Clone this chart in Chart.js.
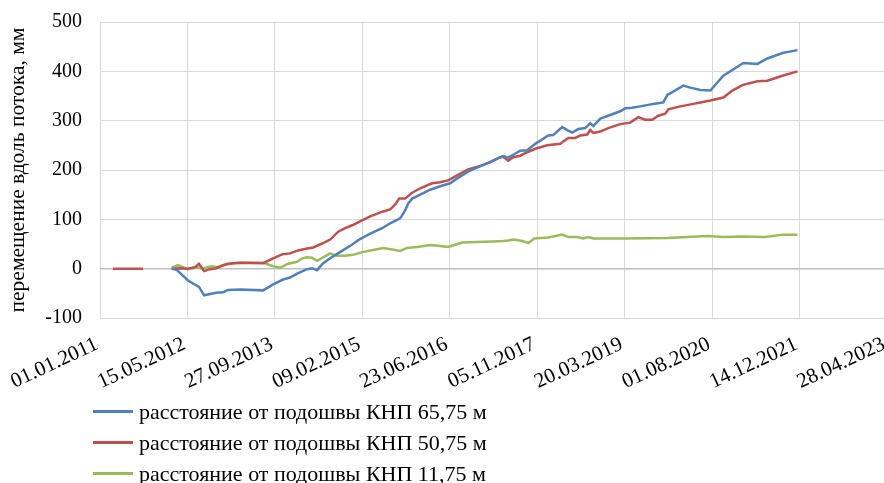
<!DOCTYPE html>
<html lang="ru">
<head>
<meta charset="utf-8">
<title>Перемещение вдоль потока</title>
<script src="https://cdn.jsdelivr.net/npm/chart.js@4.4.1/dist/chart.umd.min.js"></script>
<style>
    html, body { margin: 0; padding: 0; background: #fff; overflow: hidden; }
    #wrap { position: relative; width: 890px; height: 483px; }
    #legend { position: absolute; left: 93px; top: 396px; font-family: "Liberation Serif", "Times New Roman", serif; font-size: 22px; color: #000; }
    .leg-item { display: flex; align-items: center; height: 31px; }
    .leg-line { width: 40px; height: 3px; margin-right: 6px; }
</style>
</head>
<body>
<div id="wrap">
    <canvas id="grafico" width="890" height="483"></canvas>
    <div id="legend"></div>
</div>
<script>
// --- dados ---
const nomesSeries = [
    'расстояние от подошвы КНП 65,75 м',
    'расстояние от подошвы КНП 50,75 м',
    'расстояние от подошвы КНП 11,75 м'
];
const coresSeries = ['#4F81BD', '#C0504D', '#9BBB59'];

const datas65 = ['15.02.2012', '16.03.2012', '18.05.2012', '20.07.2012', '18.08.2012', '26.10.2012', '05.12.2012', '02.01.2013',
    '12.03.2013', '22.07.2013', '17.09.2013', '13.11.2013', '23.12.2013', '01.02.2014', '30.03.2014', '28.04.2014', '26.05.2014',
    '30.06.2014', '09.08.2014', '18.09.2014', '03.11.2014', '13.12.2014', '27.01.2015', '26.03.2015', '02.06.2015', '18.07.2015',
    '13.09.2015', '12.10.2015', '29.10.2015', '21.11.2015', '06.01.2016', '03.03.2016', '29.04.2016', '25.06.2016', '04.08.2016',
    '18.10.2016', '14.12.2016', '09.02.2017', '27.03.2017', '25.04.2017', '23.05.2017', '21.06.2017', '31.07.2017', '09.09.2017',
    '25.10.2017', '04.12.2017', '07.01.2018', '05.02.2018', '28.03.2018', '26.04.2018', '24.05.2018', '28.06.2018', '07.08.2018',
    '04.09.2018', '22.09.2018', '01.11.2018', '16.12.2018', '23.02.2019', '23.03.2019', '02.05.2019', '17.06.2019', '31.08.2019',
    '27.10.2019', '19.11.2019', '23.12.2019', '18.02.2020', '29.03.2020', '26.05.2020', '22.07.2020', '04.10.2020', '27.01.2021',
    '17.04.2021', '13.06.2021', '07.09.2021', '02.12.2021'];
const valores65 = [0, -3, -24, -37, -54, -49, -48, -43,
    -42, -44, -32, -22, -18, -10, -1, 1, -3,
    11, 21, 30, 40, 49, 60, 71, 82, 92,
    102, 118, 132, 142, 150, 160, 167, 173, 183,
    199, 208, 216, 224, 228, 225, 231, 239, 240,
    253, 262, 270, 271, 287, 281, 276, 283, 285,
    295, 289, 304, 310, 319, 325, 326, 329, 334,
    337, 352, 359, 371, 367, 362, 361, 391, 417,
    415, 426, 437, 443];

// null = перерыв в измерениях
const datas50 = ['16.03.2011', '10.06.2011', '04.09.2011', '01.12.2011', '15.02.2012', '03.04.2012', '18.05.2012', '27.06.2012', '20.07.2012',
    '18.08.2012', '21.09.2012', '26.10.2012', '05.12.2012', '02.01.2013', '12.03.2013', '22.07.2013', '17.09.2013', '07.11.2013',
    '23.12.2013', '07.02.2014', '30.03.2014', '04.05.2014', '24.06.2014', '09.08.2014', '24.09.2014', '03.11.2014', '13.12.2014',
    '27.01.2015', '26.03.2015', '08.06.2015', '18.07.2015', '16.08.2015', '08.09.2015', '12.10.2015', '21.11.2015', '06.01.2016',
    '14.03.2016', '29.04.2016', '14.06.2016', '04.08.2016', '06.10.2016', '14.12.2016', '09.02.2017', '27.03.2017', '25.04.2017',
    '23.05.2017', '21.06.2017', '31.07.2017', '09.09.2017', '25.10.2017', '01.01.2018', '17.03.2018', '03.04.2018', '02.05.2018',
    '11.06.2018', '09.07.2018', '18.08.2018', '04.09.2018', '22.09.2018', '01.11.2018', '16.12.2018', '23.02.2019', '21.04.2019',
    '06.06.2019', '16.07.2019', '25.08.2019', '28.09.2019', '07.11.2019', '25.11.2019', '01.02.2020', '16.04.2020', '26.05.2020',
    '22.07.2020', '04.10.2020', '25.11.2020', '21.01.2021', '17.04.2021', '13.06.2021', '07.09.2021', '02.12.2021'];
const valores50 = [0, 0, 0, null, 0, 1, 0, 3, 10,
    -5, -1, 1, 7, 10, 12, 11, 21, 29,
    31, 37, 41, 43, 51, 59, 75, 82, 88,
    96, 106, 116, 120, 130, 142, 142, 154, 163,
    173, 175, 179, 189, 201, 208, 216, 224, 227,
    219, 226, 229, 236, 243, 250, 253, 258, 265,
    265, 270, 272, 281, 275, 278, 285, 293, 296,
    307, 302, 302, 310, 314, 323, 329, 334, 337,
    341, 347, 361, 372, 380, 381, 391, 400];

const datas11 = ['15.02.2012', '22.03.2012', '20.04.2012', '18.05.2012', '03.07.2012', '12.08.2012', '01.10.2012', '06.11.2012',
    '16.12.2012', '31.01.2013', '12.03.2013', '22.07.2013', '17.09.2013', '27.10.2013', '12.12.2013', '01.02.2014', '02.03.2014',
    '30.03.2014', '28.04.2014', '26.05.2014', '30.06.2014', '09.08.2014', '18.09.2014', '03.11.2014', '18.12.2014', '14.02.2015',
    '12.04.2015', '08.06.2015', '30.07.2015', '13.09.2015', '23.10.2015', '20.12.2015', '03.03.2016', '29.04.2016', '14.06.2016',
    '02.09.2016', '27.11.2016', '26.02.2017', '25.04.2017', '23.05.2017', '21.06.2017', '11.08.2017', '15.09.2017', '19.10.2017',
    '07.01.2018', '28.03.2018', '02.05.2018', '22.06.2018', '26.07.2018', '24.08.2018', '22.09.2018', '12.03.2019', '19.11.2019',
    '05.07.2020', '04.10.2020', '27.01.2021', '01.06.2021', '12.09.2021', '02.12.2021'];
const valores11 = [2, 7, 3, -1, 3, 1, 5, 3,
    8, 11, 12, 12, 5, 2, 10, 14, 21,
    23, 22, 16, 23, 31, 26, 26, 28, 34,
    38, 42, 39, 36, 42, 44, 48, 46, 44,
    53, 54, 55, 56, 57, 59, 56, 52, 61,
    63, 69, 64, 64, 61, 64, 61, 61, 62,
    66, 64, 65, 64, 69, 69];

const ticksY = [-100, 0, 100, 200, 300, 400, 500];
const dataInicial = '01.01.2011';
const dataFinal = '28.04.2023';
const passoDias = 500;

// --- utilitários de data ---
const DIA_MS = 86400000;
function paraUTC(texto) {
    const [d, m, a] = texto.split('.').map(Number);
    return Date.UTC(a, m - 1, d);
}
const origem = paraUTC(dataInicial);
function paraDia(texto) {
    return Math.round((paraUTC(texto) - origem) / DIA_MS);
}
function formatarDia(dia) {
    const dt = new Date(origem + dia * DIA_MS);
    const dd = String(dt.getUTCDate()).padStart(2, '0');
    const mm = String(dt.getUTCMonth() + 1).padStart(2, '0');
    return dd + '.' + mm + '.' + dt.getUTCFullYear();
}
function montarPontos(datas, valores) {
    return datas.map((d, i) => ({ x: paraDia(d), y: valores[i] }));
}

const fonteSerif = '"Liberation Serif", "Times New Roman", serif';
const series = [montarPontos(datas65, valores65), montarPontos(datas50, valores50), montarPontos(datas11, valores11)];

const ctx = document.getElementById('grafico').getContext('2d');
new Chart(ctx, {
    type: 'line',
    data: {
        datasets: series.map((pontos, i) => ({
            label: nomesSeries[i],
            data: pontos,
            borderColor: coresSeries[i],
            backgroundColor: coresSeries[i],
            borderWidth: 2.5,
            pointRadius: 0,
            tension: 0,
            fill: false,
            spanGaps: false
        }))
    },
    options: {
        responsive: false,
        animation: false,
        events: [],
        layout: { padding: { top: 22, left: 0, right: 3, bottom: 83 } },
        plugins: { legend: { display: false }, tooltip: { enabled: false } },
        scales: {
            x: {
                type: 'linear',
                min: 0,
                max: paraDia(dataFinal),
                afterFit: (s) => { s.height = 82; s.paddingLeft = 0; s.paddingRight = 0; },
                afterBuildTicks: (s) => {
                    const lista = [];
                    for (let d = 0; d <= paraDia(dataFinal); d += passoDias) lista.push({ value: d });
                    s.ticks = lista;
                },
                ticks: {
                    callback: (v) => formatarDia(v),
                    minRotation: 25,
                    maxRotation: 25,
                    autoSkip: false,
                    padding: 14,
                    labelOffset: -3,
                    color: '#000',
                    font: { family: fonteSerif, size: 21 }
                },
                grid: { color: '#d9d9d9', lineWidth: 1, drawTicks: false },
                border: { display: false }
            },
            y: {
                min: -100,
                max: 500,
                afterFit: (s) => { s.width = 100; s.paddingTop = 0; s.paddingBottom = 0; },
                afterBuildTicks: (s) => { s.ticks = ticksY.map(v => ({ value: v })); },
                ticks: {
                    padding: 18,
                    color: '#000',
                    font: { family: fonteSerif, size: 20 }
                },
                grid: {
                    drawTicks: false,
                    color: (c) => (c.tick && c.tick.value === 0 ? '#bfbfbf' : '#d9d9d9'),
                    lineWidth: (c) => (c.tick && c.tick.value === 0 ? 1.5 : 1)
                },
                border: { display: false },
                title: {
                    display: true,
                    text: 'перемещение вдоль потока, мм',
                    color: '#000',
                    font: { family: fonteSerif, size: 21.5 },
                    padding: { top: 5, bottom: 0 }
                }
            }
        }
    }
});

// --- legenda em HTML ---
const legendaEl = document.getElementById('legend');
nomesSeries.forEach((nome, i) => {
    legendaEl.innerHTML += `<div class="leg-item"><span class="leg-line" style="background:${coresSeries[i]}"></span><span>${nome}</span></div>`;
});
</script>
</body>
</html>
